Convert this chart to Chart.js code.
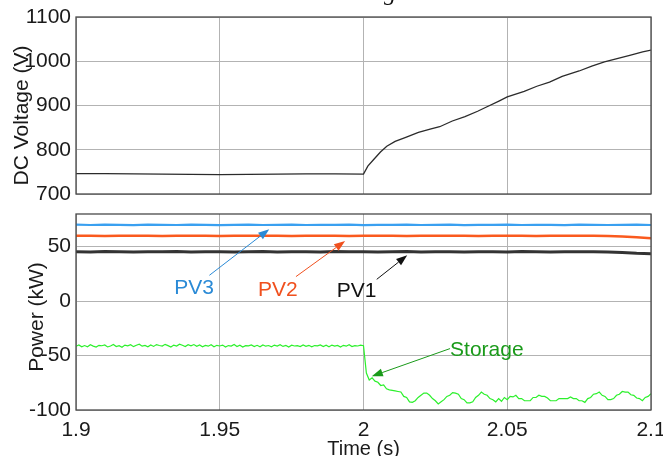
<!DOCTYPE html>
<html><head><meta charset="utf-8">
<script src="https://cdn.jsdelivr.net/npm/chart.js@4.4.1/dist/chart.umd.min.js"></script>
<style>
html,body{margin:0;padding:0;background:#fff;overflow:hidden;width:663px;height:456px;position:relative}
#c1{position:absolute;left:0;top:0;width:663px;height:210px}
#c2{position:absolute;left:0;top:205px;width:663px;height:260px}
</style></head>
<body>
<canvas id="c1" width="663" height="210"></canvas>
<canvas id="c2" width="663" height="260"></canvas>
<script>
// ---------- data ----------
const xTicks = [1.9, 1.95, 2, 2.05, 2.1];
const voltageTicks = [700, 800, 900, 1000, 1100];
const powerTicks = [-100, -50, 0, 50];
const voltageTitle = 'DC Voltage (V)';
const powerTitle = 'Power (kW)';
const timeTitle = 'Time (s)';

const voltageTime = [1.90,1.91,1.92,1.93,1.94,1.95,1.96,1.97,1.98,1.99,2.0,
  2.0015,2.0037,2.0059,2.0081,2.011,2.0147,2.0191,2.0235,2.0265,2.0309,2.0353,2.0397,2.0426,2.0471,2.05,
  2.0559,2.0603,2.0647,2.0691,2.075,2.0794,2.0838,2.0882,2.0926,2.0971,2.1];
const voltage = [746,746,745.5,745,744.5,744,744.5,745,745.5,745.5,745,
  763,779,795,808,819,828,839,847,852,865,875,887,896,910,919.5,
  932,943.5,953,966,978,989,998.5,1006,1013.5,1021,1025];

const pvTime = [1.900,1.905,1.910,1.915,1.920,1.925,1.930,1.935,1.940,1.945,
  1.950,1.955,1.960,1.965,1.970,1.975,1.980,1.985,1.990,1.995,
  2.000,2.005,2.010,2.015,2.020,2.025,2.030,2.035,2.040,2.045,
  2.050,2.055,2.060,2.065,2.070,2.075,2.080,2.085,2.090,2.095,2.100];
const pv3 = [70.2,69.9,70.3,70.0,69.8,70.2,70.1,69.9,70.3,70.0,
  69.8,70.1,70.2,69.9,70.0,70.3,69.9,70.1,70.0,70.2,
  69.8,70.1,70.0,70.3,69.9,70.1,70.2,69.8,70.0,70.1,
  70.2,69.9,70.0,70.1,69.8,70.2,70.0,69.9,70.1,70.2,69.9];
const pv2 = [60.1,60.0,59.9,60.1,60.0,60.1,59.9,60.0,60.1,60.0,
  59.9,60.1,60.0,60.0,60.1,59.9,60.0,60.1,60.0,59.9,
  60.0,60.1,60.0,59.9,60.1,60.0,60.0,60.1,59.9,60.0,
  60.1,60.0,59.9,60.0,60.1,60.0,60.0,59.8,59.3,58.6,57.8];
const pv1 = [45.4,45.2,45.5,45.3,45.1,45.4,45.3,45.5,45.2,45.3,
  45.4,45.1,45.3,45.5,45.2,45.4,45.3,45.2,45.5,45.3,
  45.4,45.2,45.3,45.5,45.1,45.3,45.4,45.2,45.3,45.4,
  45.2,45.5,45.3,45.2,45.4,45.3,45.3,45.2,44.6,43.9,43.6];

const storageStart = 1.9, storageStep = 0.001;
const storage = [
  -41.5,-40.2,-42.0,-40.8,-41.9,-40.1,-41.3,-42.2,-40.6,-41.0,
  -40.3,-42.1,-41.2,-39.8,-41.7,-40.9,-42.3,-40.4,-41.1,-40.0,
  -41.8,-40.5,-39.6,-41.4,-40.7,-42.0,-40.2,-41.6,-39.9,-40.8,
  -41.3,-39.7,-40.9,-42.1,-40.4,-41.2,-39.5,-40.6,-41.8,-40.1,
  -41.0,-39.9,-41.5,-40.3,-42.0,-40.7,-41.4,-40.0,-41.9,-40.6,
  -41.2,-40.4,-42.1,-40.8,-41.3,-39.9,-41.7,-40.5,-42.2,-40.9,
  -41.1,-40.3,-41.8,-40.6,-42.0,-40.2,-41.4,-40.8,-41.9,-40.4,
  -41.3,-40.0,-41.6,-40.7,-42.1,-40.5,-41.2,-40.9,-41.8,-40.3,
  -41.5,-40.6,-42.0,-40.8,-41.1,-40.2,-41.7,-40.5,-41.9,-40.4,
  -41.3,-40.7,-42.2,-40.6,-41.4,-40.1,-41.8,-40.9,-41.2,-40.5,
  -41,-66,-72.5,-70.5,-73.5,-74.5,-77.5,-77,-80.5,-81.5,
  -82,-82.5,-83,-83.5,-87.5,-88.5,-92.5,-93,-91.5,-88.5,
  -86.5,-84.5,-84.5,-86.5,-89.5,-91.5,-94.5,-92.5,-90.5,-87.5,
  -86.5,-84,-84.5,-85.5,-89.5,-90.5,-93.5,-93.5,-92.5,-88.5,
  -86.5,-83.5,-85.5,-86.5,-89.5,-90.5,-92.5,-89.5,-92,-88.5,
  -90.5,-87.5,-88,-86.5,-89.5,-89.5,-91.5,-91.5,-91.5,-88.5,
  -88.5,-86.5,-87.5,-87.5,-89,-91.5,-91.5,-91.5,-89.5,-89.5,
  -89.5,-89.5,-88,-89.5,-89.5,-91.5,-91.5,-93,-89.5,-88.5,
  -85.5,-85,-83.5,-86.5,-87.5,-90.5,-90.5,-89.5,-86.5,-85.5,
  -83,-83.5,-83.5,-86,-86.5,-89,-89.5,-91.5,-88.5,-87.5,-85];

// annotation labels and arrows (data units: time, kW)
const labelNames = ['PV3', 'PV2', 'PV1', 'Storage'];
const labelColors = ['#2a8ad6', '#f0501e', '#111111', '#1a9a1a'];
const labelPos = [[1.9411, 11.5], [1.9702, 10.3], [1.9976, 9.3], [2.0429, -45.0]];
const arrowFrom = [[1.9464, 23.7], [1.9765, 22.5], [2.0046, 20.0], [2.0301, -43.6]];
const arrowTo = [[1.9672, 66.0], [1.9936, 55.2], [2.0152, 42.1], [2.0029, -69.0]];

// ---------- helpers ----------
const FONT = "'Liberation Sans', Arial, sans-serif";
const pair = (xs, ys) => ys.map((y, i) => ({x: xs[i], y}));
const storageData = storage.map((y, i) => ({x: +(storageStart + i * storageStep).toFixed(3), y}));
const fmtX = v => String(+(+v).toFixed(2));
const fmtY = v => String(Math.round(v));

const framePlugin = {
  id: 'frame',
  afterDatasetsDraw(chart) {
    const {ctx, chartArea: a} = chart;
    ctx.save();
    ctx.strokeStyle = '#4a4a4a';
    ctx.lineWidth = 1.3;
    ctx.strokeRect(a.left, a.top, a.right - a.left, a.bottom - a.top);
    ctx.restore();
  }
};

// y-axis title drawn beside the tick labels (offset along the axis as in the figure)
function yTitlePlugin(text, x, dy) {
  return {
    id: 'ytitle',
    afterDraw(chart) {
      const {ctx, chartArea: a} = chart;
      ctx.save();
      ctx.translate(x, (a.top + a.bottom) / 2 + dy);
      ctx.rotate(-Math.PI / 2);
      ctx.fillStyle = '#1a1a1a';
      ctx.font = '21px ' + FONT;
      ctx.textAlign = 'center'; ctx.textBaseline = 'middle';
      ctx.fillText(text, 0, 0);
      ctx.restore();
    }
  };
}

function forceY(width) {
  return function (scale) { scale.width = width; scale.paddingTop = 0; scale.paddingBottom = 0; };
}
function forceX(height) {
  return function (scale) { scale.height = height; scale.paddingLeft = 0; scale.paddingRight = 0; };
}

// ---------- top chart ----------
new Chart(document.getElementById('c1'), {
  type: 'line',
  data: {datasets: [{
    label: 'DC Voltage',
    data: pair(voltageTime, voltage),
    borderColor: '#2b2b2b', borderWidth: 1.3, pointRadius: 0, tension: 0, fill: false
  }]},
  options: {
    responsive: false, animation: false,
    layout: {padding: {top: 17, bottom: 16, left: 0, right: 12}},
    plugins: {legend: {display: false}, tooltip: {enabled: false}},
    scales: {
      x: {type: 'linear', min: 1.9, max: 2.1,
        afterBuildTicks: s => { s.ticks = xTicks.map(v => ({value: v})); },
        ticks: {display: false},
        grid: {color: '#b3b3b3', drawTicks: false, lineWidth: 1},
        border: {display: false},
        afterFit: forceX(0)},
      y: {type: 'linear', min: 700, max: 1100,
        afterBuildTicks: s => { s.ticks = voltageTicks.map(v => ({value: v})); },
        ticks: {padding: 5, color: '#1a1a1a', font: {family: FONT, size: 21}, callback: v => fmtY(v)},
        grid: {color: '#b3b3b3', drawTicks: false, lineWidth: 1},
        border: {display: false},
        afterFit: forceY(76)}
    }
  },
  plugins: [framePlugin, yTitlePlugin(voltageTitle, 22, 10), {
    id: 'cutTitle',
    afterDraw(chart) {
      const ctx = chart.ctx;
      ctx.save();
      ctx.fillStyle = '#111';
      ctx.font = "italic 24px 'Liberation Serif', serif";
      ctx.textBaseline = 'alphabetic';
      ctx.fillText('g', 384, 0);
      ctx.restore();
    }
  }]
});

// ---------- bottom chart ----------
const arrowPlugin = {
  id: 'arrows',
  afterDatasetsDraw(chart) {
    const {ctx, scales: {x, y}} = chart;
    ctx.save();
    labelNames.forEach((name, i) => {
      const x1 = x.getPixelForValue(arrowFrom[i][0]), y1 = y.getPixelForValue(arrowFrom[i][1]);
      const x2 = x.getPixelForValue(arrowTo[i][0]), y2 = y.getPixelForValue(arrowTo[i][1]);
      const col = labelColors[i];
      ctx.strokeStyle = col; ctx.fillStyle = col; ctx.lineWidth = 1;
      const ang = Math.atan2(y2 - y1, x2 - x1);
      const hl = 11, hw = 4;
      const bx = x2 - hl * Math.cos(ang), by = y2 - hl * Math.sin(ang);
      ctx.beginPath(); ctx.moveTo(x1, y1); ctx.lineTo(bx, by); ctx.stroke();
      ctx.beginPath();
      ctx.moveTo(x2, y2);
      ctx.lineTo(bx + hw * Math.sin(ang), by - hw * Math.cos(ang));
      ctx.lineTo(bx - hw * Math.sin(ang), by + hw * Math.cos(ang));
      ctx.closePath(); ctx.fill();
      ctx.font = '21px ' + FONT;
      ctx.textAlign = 'center'; ctx.textBaseline = 'middle';
      ctx.fillText(name, x.getPixelForValue(labelPos[i][0]), y.getPixelForValue(labelPos[i][1]));
    });
    ctx.restore();
  }
};

new Chart(document.getElementById('c2'), {
  type: 'line',
  data: {datasets: [
    {label: 'Storage', data: storageData, borderColor: '#2cf02c', borderWidth: 1.2, pointRadius: 0, tension: 0, fill: false},
    {label: 'PV1', data: pair(pvTime, pv1), borderColor: '#333333', borderWidth: 3, pointRadius: 0, tension: 0, fill: false},
    {label: 'PV2', data: pair(pvTime, pv2), borderColor: '#fa5a1e', borderWidth: 2.5, pointRadius: 0, tension: 0, fill: false},
    {label: 'PV3', data: pair(pvTime, pv3), borderColor: '#3aa0f0', borderWidth: 2.2, pointRadius: 0, tension: 0, fill: false}
  ]},
  options: {
    responsive: false, animation: false,
    layout: {padding: {top: 9, bottom: 4, left: 0, right: 12}},
    plugins: {legend: {display: false}, tooltip: {enabled: false}},
    scales: {
      x: {type: 'linear', min: 1.9, max: 2.1,
        afterBuildTicks: s => { s.ticks = xTicks.map(v => ({value: v})); },
        ticks: {padding: 8, color: '#1a1a1a', font: {family: FONT, size: 21}, maxRotation: 0,
          callback: v => fmtX(v)},
        grid: {color: '#b3b3b3', drawTicks: false, lineWidth: 1},
        border: {display: false},
        title: {display: true, text: timeTitle, color: '#1a1a1a',
          font: {family: FONT, size: 20}, padding: {top: 0, bottom: 0}},
        afterFit: forceX(51)},
      y: {type: 'linear', min: -100, max: 80,
        afterBuildTicks: s => { s.ticks = powerTicks.map(v => ({value: v})); },
        ticks: {padding: 5, color: '#1a1a1a', font: {family: FONT, size: 21}, callback: v => fmtY(v)},
        grid: {color: '#b3b3b3', drawTicks: false, lineWidth: 1},
        border: {display: false},
        afterFit: forceY(76)}
    }
  },
  plugins: [framePlugin, arrowPlugin, yTitlePlugin(powerTitle, 37, 5)]
});
</script>
</body></html>
